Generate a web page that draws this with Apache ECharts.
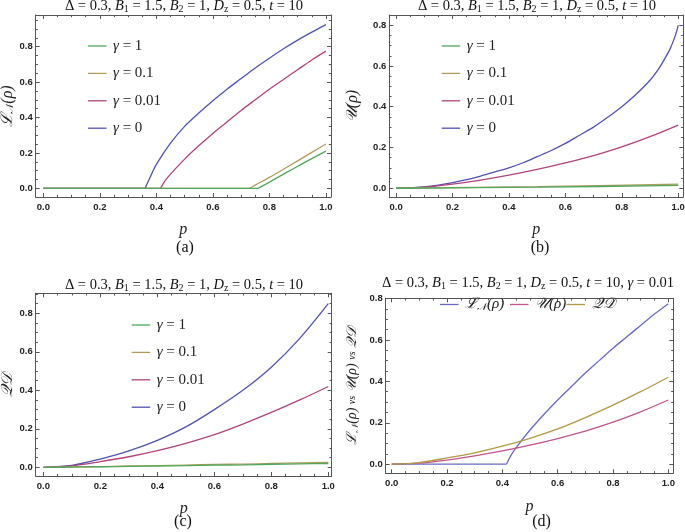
<!DOCTYPE html>
<html><head><meta charset="utf-8">
<script src="https://cdn.jsdelivr.net/npm/echarts@6/dist/echarts.min.js"></script>
<style>html,body{margin:0;padding:0;background:#fff}#c{width:685px;height:532px}</style>
</head><body><div id="c"></div>
<script>
// ---------- data ----------
const TICKS = [0, 0.2, 0.4, 0.6, 0.8, 1.0];
const LEG_G = ['γ = 1', 'γ = 0.1', 'γ = 0.01', 'γ = 0'];
const LEG_D = ['LN', 'U', 'QD'];

// (a) logarithmic negativity
const A_G0_P = [0.36, 0.38, 0.40, 0.45, 0.50, 0.55, 0.60, 0.65, 0.70, 0.75, 0.80, 0.85, 0.90, 0.95, 1.00];
const A_G0_V = [0.00, 0.07, 0.135, 0.255, 0.35, 0.425, 0.495, 0.56, 0.62, 0.68, 0.735, 0.788, 0.837, 0.882, 0.925];
const A_G001_P = [0.415, 0.43, 0.45, 0.50, 0.55, 0.60, 0.65, 0.70, 0.75, 0.80, 0.85, 0.90, 0.95, 1.00];
const A_G001_V = [0.00, 0.04, 0.08, 0.165, 0.24, 0.31, 0.375, 0.44, 0.50, 0.56, 0.615, 0.67, 0.725, 0.775];
const A_G01_P = [0.73, 0.75, 0.80, 0.85, 0.90, 0.95, 1.00];
const A_G01_V = [0.00, 0.018, 0.062, 0.108, 0.155, 0.203, 0.25];
const A_G1_P = [0.76, 0.80, 0.85, 0.90, 0.95, 1.00];
const A_G1_V = [0.00, 0.035, 0.08, 0.125, 0.168, 0.21];

// (b) uncertainty
const B_P = [0, 0.05, 0.1, 0.15, 0.2, 0.25, 0.3, 0.35, 0.4, 0.45, 0.5, 0.55, 0.6, 0.65, 0.7, 0.75, 0.8, 0.85, 0.9, 0.93, 0.95, 0.97, 0.99, 1.0];
const B_G0_V = [0, 0.001, 0.006, 0.015, 0.027, 0.042, 0.06, 0.08, 0.10, 0.125, 0.155, 0.185, 0.22, 0.26, 0.30, 0.348, 0.40, 0.46, 0.53, 0.585, 0.63, 0.68, 0.75, 0.80];
const B_G001_P = [0, 0.1, 0.2, 0.3, 0.4, 0.5, 0.6, 0.7, 0.8, 0.9, 1.0];
const B_G001_V = [0, 0.005, 0.02, 0.04, 0.064, 0.092, 0.124, 0.16, 0.203, 0.253, 0.31];
const B_G01_P = [0, 0.5, 1.0];
const B_G01_V = [0, 0.008, 0.02];
const B_G1_P = [0, 0.5, 1.0];
const B_G1_V = [0, 0.005, 0.014];

// (c) quantum discord
const C_P = [0, 0.1, 0.2, 0.3, 0.4, 0.5, 0.6, 0.7, 0.8, 0.9, 1.0];
const C_G0_V = [0, 0.01, 0.043, 0.085, 0.14, 0.21, 0.30, 0.40, 0.52, 0.67, 0.85];
const C_G001_V = [0, 0.008, 0.03, 0.055, 0.087, 0.125, 0.17, 0.225, 0.285, 0.35, 0.42];
const C_G01_V = [0, 0.002, 0.004, 0.007, 0.009, 0.012, 0.015, 0.017, 0.02, 0.023, 0.025];
const C_G1_V = [0, 0.001, 0.003, 0.005, 0.007, 0.009, 0.011, 0.013, 0.016, 0.018, 0.02];

// ---------- layout ----------
const COL = {'γ = 1': '#4fa85c', 'γ = 0.1': '#b09c5e', 'γ = 0.01': '#b0447a', 'γ = 0': '#5252b0'};
const COLD = {LN: '#6a6ac4', U: '#c0558a', QD: '#b09a48'};
const PANELS = [
  {l: 35.7, r: 331, t: 15, b: 197, x: [-0.027, 1.018], y: [-0.049, 0.979]},
  {l: 389.3, r: 683.3, t: 15, b: 197, x: [-0.024, 1.018], y: [-0.043, 0.85]},
  {l: 35.7, r: 331.7, t: 293.3, b: 476, x: [-0.027, 1.012], y: [-0.045, 0.904]},
  {l: 385.7, r: 673.3, t: 298.3, b: 473.3, x: [-0.0217, 1.018], y: [-0.044, 0.801]}
];

const SERIF = '"Liberation Serif", "DejaVu Serif", serif';
const sans = 'Liberation Sans, DejaVu Sans, sans-serif';
const FRAME = '#555';

const grids = [], xAxes = [], yAxes = [];
const mainX = [], mainY = [];
function minors(lo, hi) {
  const out = [];
  for (let k = Math.ceil(lo / 0.05 - 1e-9); k * 0.05 <= hi + 1e-9; k++) {
    if (k % 4 !== 0) out.push(+(k * 0.05).toFixed(2));
  }
  return out;
}
const yNames = [
  'ℒ{sub|𝒩}(ρ)', '𝒰(ρ)', '𝒬𝒟', 'ℒ{sub|𝒩}(ρ) {n|vs} 𝒰(ρ) {n|vs} 𝒬𝒟'
];
const yNameSize = [16, 16, 16, 14];
const yNameGap = [19, 29, 20, 26];
PANELS.forEach((p, gi) => {
  grids.push({left: p.l, top: p.t, width: p.r - p.l, height: p.b - p.t, containLabel: false, outerBoundsMode: 'none'});
  const majX = TICKS.filter(v => v >= p.x[0] && v <= p.x[1]);
  const majY = TICKS.filter(v => v >= p.y[0] && v <= p.y[1]);
  const base = (pos, rng, isX, major, withLabel, withLine, len) => ({
    type: 'value', gridIndex: gi, position: pos, min: rng[0], max: rng[1],
    splitLine: {show: false},
    axisLine: {show: withLine, onZero: false, lineStyle: {color: FRAME, width: 1}},
    axisTick: {show: true, inside: true, length: len, customValues: major, lineStyle: {color: FRAME, width: 1}},
    axisLabel: withLabel ? {show: true, customValues: major, margin: isX ? 5 : 3, fontFamily: sans, fontWeight: 'bold', fontSize: 9.5, color: '#222', formatter: v => v.toFixed(1)} : {show: false}
  });
  mainX.push(xAxes.length);
  xAxes.push(Object.assign(base('bottom', p.x, true, majX, true, true, 4), {
    name: 'p', nameLocation: 'middle', nameGap: 25,
    nameTextStyle: {fontFamily: SERIF, fontStyle: 'italic', fontSize: 16, color: '#222'}
  }));
  xAxes.push(base('bottom', p.x, true, minors(p.x[0], p.x[1]), false, false, 2.2));
  xAxes.push(base('top', p.x, true, majX, false, true, 4));
  xAxes.push(base('top', p.x, true, minors(p.x[0], p.x[1]), false, false, 2.2));
  mainY.push(yAxes.length);
  yAxes.push(Object.assign(base('left', p.y, false, majY, true, true, 4), {
    name: yNames[gi], nameLocation: 'middle', nameGap: yNameGap[gi], nameRotate: 90,
    nameTextStyle: {fontFamily: SERIF, fontStyle: 'italic', fontSize: yNameSize[gi], color: '#222',
      rich: {sub: {fontFamily: SERIF, fontStyle: 'italic', fontSize: yNameSize[gi] * 0.65, color: '#222', verticalAlign: 'bottom', padding: [6, 0, 0, 0]},
             n: {fontFamily: SERIF, fontSize: 10, color: '#222'}}}
  }));
  yAxes.push(base('left', p.y, false, minors(p.y[0], p.y[1]), false, false, 2.2));
  yAxes.push(base('right', p.y, false, majY, false, true, 4));
  yAxes.push(base('right', p.y, false, minors(p.y[0], p.y[1]), false, false, 2.2));
});

function zipXY(ps, vs) { return ps.map((x, i) => [x, vs[i]]); }
function line(gi, name, color, data, smooth) {
  return {type: 'line', name: name, xAxisIndex: mainX[gi], yAxisIndex: mainY[gi], data: data,
    symbol: 'none', smooth: smooth === undefined ? 0.3 : smooth,
    lineStyle: {color: color, width: 1.3}, itemStyle: {color: color}, z: 3};
}
const series = [];
function withFlat(gi, name, color, ps, vs) {
  series.push(line(gi, name, color, [[0, 0], [ps[0], 0]], false));
  series.push(line(gi, name, color, zipXY(ps, vs)));
}
withFlat(0, 'γ = 0', COL['γ = 0'], A_G0_P, A_G0_V);
withFlat(0, 'γ = 0.01', COL['γ = 0.01'], A_G001_P, A_G001_V);
withFlat(0, 'γ = 0.1', COL['γ = 0.1'], A_G01_P, A_G01_V);
withFlat(0, 'γ = 1', COL['γ = 1'], A_G1_P, A_G1_V);
series.push(line(1, 'γ = 0', COL['γ = 0'], zipXY(B_P, B_G0_V)));
series.push(line(1, 'γ = 0.01', COL['γ = 0.01'], zipXY(B_G001_P, B_G001_V)));
series.push(line(1, 'γ = 0.1', COL['γ = 0.1'], zipXY(B_G01_P, B_G01_V)));
series.push(line(1, 'γ = 1', COL['γ = 1'], zipXY(B_G1_P, B_G1_V)));
series.push(line(2, 'γ = 0', COL['γ = 0'], zipXY(C_P, C_G0_V)));
series.push(line(2, 'γ = 0.01', COL['γ = 0.01'], zipXY(C_P, C_G001_V)));
series.push(line(2, 'γ = 0.1', COL['γ = 0.1'], zipXY(C_P, C_G01_V)));
series.push(line(2, 'γ = 1', COL['γ = 1'], zipXY(C_P, C_G1_V)));
series.push(line(3, 'LN', COLD.LN, [[0, 0], [A_G001_P[0], 0]], false));
series.push(line(3, 'LN', COLD.LN, zipXY(A_G001_P, A_G001_V)));
series.push(line(3, 'U', COLD.U, zipXY(B_G001_P, B_G001_V)));
series.push(line(3, 'QD', COLD.QD, zipXY(C_P, C_G001_V)));

// ---------- legends (drawn as graphic items) ----------
const legRich = {
  g: {font: 'italic 15px ' + SERIF, fill: '#222'},
  t: {font: '15px ' + SERIF, fill: '#222'},
  s: {font: 'italic 15px ' + SERIF, fill: '#222'},
  sub: {font: 'italic 10px ' + SERIF, fill: '#222', verticalAlign: 'bottom', padding: [6, 0, 0, 0]}
};
function gFmt(n) { return '{g|γ}{t|' + n.slice(1) + '}'; }
function dFmt(n) {
  if (n === 'LN') return '{s|ℒ}{sub|𝒩}{s|(ρ)}';
  if (n === 'U') return '{s|𝒰(ρ)}';
  return '{s|𝒬𝒟}';
}
const graphics = [];
function legendItem(x, y, color, label) {
  graphics.push({type: 'line', z: 20, shape: {x1: x, y1: y, x2: x + 18.5, y2: y}, style: {stroke: color, lineWidth: 1.3}});
  graphics.push({type: 'text', z: 20, x: x + 25, y: y, style: {text: label, rich: legRich, font: '15px ' + SERIF, fill: '#222', align: 'left', verticalAlign: 'middle'}});
}
[[88, 46], [441.7, 46], [131.7, 325]].forEach(([lx, ly]) => {
  LEG_G.forEach((n, i) => legendItem(lx, ly + i * 27.4, COL[n], gFmt(n)));
});
const LEG_D_X = [440, 510, 566.5];
LEG_D.forEach((n, i) => legendItem(LEG_D_X[i], 304.5, COLD[n], dFmt(n)));

// ---------- titles and captions ----------
function titleText(extra) {
  return 'Δ = 0.3, {i|B}{sb|1} = 1.5, {i|B}{sb|2} = 1, {i|D}{sb|z} = 0.5, {i|t} = 10' + (extra ? ', {i|γ} = 0.01' : '');
}
const titleRich = {
  i: {font: 'italic 14.5px ' + SERIF, fill: '#111'},
  sb: {font: '10px ' + SERIF, fill: '#111', verticalAlign: 'bottom', padding: [6, 0, 0, 0]}
};
function tText(x, y, extra) {
  return {type: 'text', x: x, y: y, z: 10, style: {text: titleText(extra), rich: titleRich, font: '14.5px ' + SERIF, fill: '#111', align: 'center', verticalAlign: 'middle'}};
}
function cap(x, y, s) {
  return {type: 'text', x: x, y: y, z: 10, style: {text: s, font: '16px ' + SERIF, fill: '#111', align: 'center', verticalAlign: 'middle'}};
}
graphics.push(tText(184, 6, false), tText(537, 6, false), tText(184, 285, false), tText(528, 283.5, true),
  cap(185, 248, '(a)'), cap(540, 248, '(b)'), cap(183, 521.5, '(c)'), cap(541.5, 521.5, '(d)'));

const chart = echarts.init(document.getElementById('c'), null, {renderer: 'canvas'});
chart.setOption({
  animation: false,
  backgroundColor: '#fff',
  grid: grids, xAxis: xAxes, yAxis: yAxes, series: series, graphic: graphics
});
</script></body></html>
